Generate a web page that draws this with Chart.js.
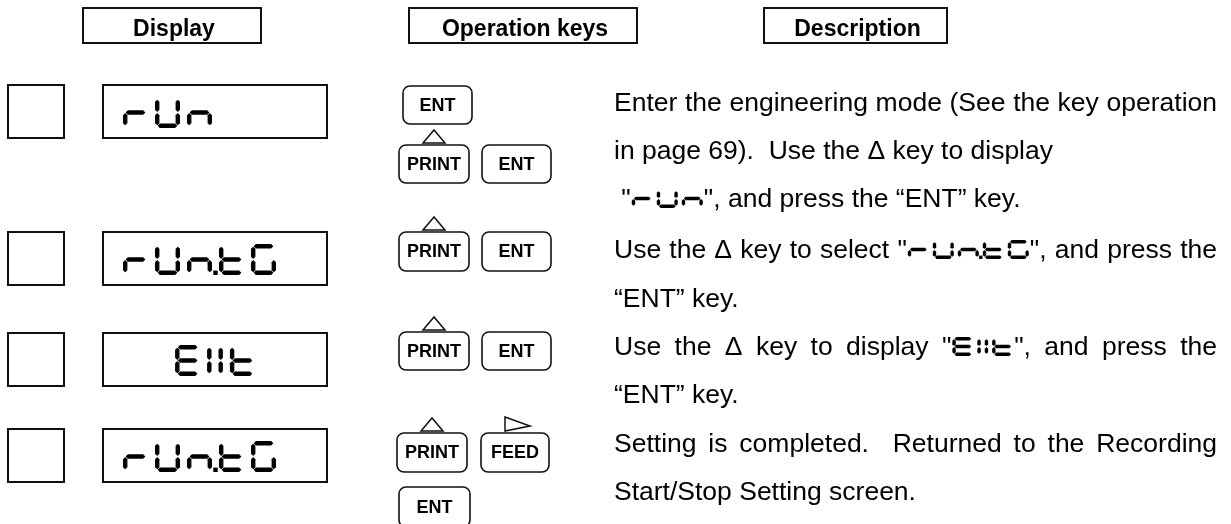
<!DOCTYPE html>
<html>
<head>
<meta charset="utf-8">
<script src="https://cdn.jsdelivr.net/npm/chart.js@4.4.0/dist/chart.umd.min.js"></script>
<style>
html, body { margin: 0; padding: 0; background: #fff; }
#wrap { width: 1231px; height: 524px; position: relative; }
</style>
</head>
<body>
<div id="wrap"><canvas id="panel"></canvas></div>
<script>
// column headings
var headers = ['Display', 'Operation keys', 'Description'];
// what the LED display shows at each step
var displays = ['rUn', 'rUn.tG', 'EXIt', 'rUn.tG'];
var displayAlign = ['left', 'left', 'center', 'left'];
// keys for each step, and the arrow printed above a key
var keyLabels = [['ENT', 'PRINT', 'ENT'], ['PRINT', 'ENT'], ['PRINT', 'ENT'], ['PRINT', 'FEED', 'ENT']];
var keyMarks = [['', 'up', ''], ['up', ''], ['up', ''], ['up', 'right', '']];
// description text, {..} = 7 segment characters
var descLines = [
  'Enter the engineering mode (See the key operation',
  'in page 69).  Use the \u0394 key to display',
  ' "{rUn}", and press the \u201cENT\u201d key.',
  'Use the \u0394 key to select "{rUn.tG}", and press the',
  '\u201cENT\u201d key.',
  'Use the \u0394 key to display "{EXIt}", and press the',
  '\u201cENT\u201d key.',
  'Setting is completed.  Returned to the Recording',
  'Start/Stop Setting screen.'
];
var descJustify = [true, false, false, true, false, true, false, true, false];

// ---- layout (pixels of the 1231x524 sheet) ----
var headerBoxes = [[83, 261], [409, 637], [764, 947]];
var headerY = [8, 43];
var rowTop = [85, 232, 333, 429];
var rowH = 53;
var keyBoxes = [
  [[403, 86, 69, 38], [399, 145, 70, 38], [482, 145, 69, 38]],
  [[399, 232, 70, 39], [482, 232, 69, 39]],
  [[399, 332, 70, 38], [482, 332, 69, 38]],
  [[397, 433, 70, 39], [481, 433, 68, 39], [399, 487, 71, 40]]
];
var descX = [614, 1217];
var descBase = [111, 159, 207, 258, 307, 355, 403, 452, 500];
var FONT = '"Liberation Sans", Arial, Helvetica, sans-serif';

var SEGS = {
  r: 'eg', U: 'bcdef', n: 'ceg', t: 'defg', G: 'acdef', E: 'adefg', X: 'bc', I: 'ef'
};
var NARROW = 'XI';

function segWidth(str, g) {
  var w = 0, n = 0;
  for (var i = 0; i < str.length; i++) {
    var ch = str[i];
    if (ch === '.') continue;
    if (n > 0) w += g.gap;
    w += NARROW.indexOf(ch) >= 0 ? g.t : g.w;
    n++;
  }
  return w;
}

// one segment: bar from (x1,y1) to (x2,y2), half thickness s, 45 degree ends
function hexSeg(ctx, x1, y1, x2, y2, s, gp) {
  var ux = x2 > x1 ? 1 : 0, uy = y2 > y1 ? 1 : 0;
  var nx = uy, ny = ux;
  ctx.beginPath();
  ctx.moveTo(x1 + ux * gp, y1 + uy * gp);
  ctx.lineTo(x1 + ux * (gp + s) + nx * s, y1 + uy * (gp + s) + ny * s);
  ctx.lineTo(x2 - ux * (gp + s) + nx * s, y2 - uy * (gp + s) + ny * s);
  ctx.lineTo(x2 - ux * gp, y2 - uy * gp);
  ctx.lineTo(x2 - ux * (gp + s) - nx * s, y2 - uy * (gp + s) - ny * s);
  ctx.lineTo(x1 + ux * (gp + s) - nx * s, y1 + uy * (gp + s) - ny * s);
  ctx.closePath();
  ctx.fill();
}

function drawSegText(ctx, str, x, bottom, g) {
  var h = g.h, t = g.t, s = t / 2, top = bottom - h, mid = top + h / 2;
  var cx = x, first = true, lastRight = x;
  ctx.fillStyle = '#000';
  for (var i = 0; i < str.length; i++) {
    var ch = str[i];
    if (ch === '.') {
      ctx.fillRect(lastRight + g.gap / 2 - s, bottom - t, t, t);
      continue;
    }
    if (!first) cx += g.gap;
    first = false;
    var w = NARROW.indexOf(ch) >= 0 ? t : g.w;
    var L = cx + s, R = cx + w - s, T = top + s, B = bottom - s;
    var on = SEGS[ch] || '';
    var gp = 0.45;
    if (on.indexOf('a') >= 0) hexSeg(ctx, L, T, R, T, s, gp);
    if (on.indexOf('g') >= 0) hexSeg(ctx, L, mid, R, mid, s, gp);
    if (on.indexOf('d') >= 0) hexSeg(ctx, L, B, R, B, s, gp);
    if (on.indexOf('f') >= 0) hexSeg(ctx, L, T, L, mid, s, gp);
    if (on.indexOf('b') >= 0) hexSeg(ctx, R, T, R, mid, s, gp);
    if (on.indexOf('e') >= 0) hexSeg(ctx, L, mid, L, B, s, gp);
    if (on.indexOf('c') >= 0) hexSeg(ctx, R, mid, R, B, s, gp);
    cx += w;
    lastRight = cx;
  }
}

// split a word into plain text and {7seg} parts
function parts(word) {
  var out = [], re = /\{([^}]*)\}/g, last = 0, m;
  while ((m = re.exec(word))) {
    if (m.index > last) out.push({ txt: word.slice(last, m.index) });
    out.push({ seg: m[1] });
    last = re.lastIndex;
  }
  if (last < word.length) out.push({ txt: word.slice(last) });
  return out;
}

var inlineSeg = { h: 19, w: 21, t: 3.4, gap: 4 };
var panelSeg = { h: 31, w: 25, t: 4.4, gap: 7 };

function wordWidth(ctx, word) {
  return parts(word).reduce(function (a, p) {
    return a + (p.seg !== undefined ? segWidth(p.seg, inlineSeg) + 2 : ctx.measureText(p.txt).width);
  }, 0);
}

function drawWord(ctx, word, x, base) {
  parts(word).forEach(function (p) {
    if (p.seg !== undefined) {
      drawSegText(ctx, p.seg, x + 1, base + 1, inlineSeg);
      x += segWidth(p.seg, inlineSeg) + 2;
    } else {
      ctx.fillText(p.txt, x, base);
      x += ctx.measureText(p.txt).width;
    }
  });
}

function roundBox(ctx, x, y, w, h, r) {
  ctx.beginPath();
  ctx.moveTo(x + r, y);
  ctx.lineTo(x + w - r, y);
  ctx.arcTo(x + w, y, x + w, y + r, r);
  ctx.lineTo(x + w, y + h - r);
  ctx.arcTo(x + w, y + h, x + w - r, y + h, r);
  ctx.lineTo(x + r, y + h);
  ctx.arcTo(x, y + h, x, y + h - r, r);
  ctx.lineTo(x, y + r);
  ctx.arcTo(x, y, x + r, y, r);
  ctx.closePath();
  ctx.stroke();
}

var sheetPlugin = {
  id: 'sheet',
  afterDraw: function (chart) {
    var ctx = chart.ctx;
    var X = function (v) { return chart.scales.x.getPixelForValue(v); };
    var Y = function (v) { return chart.scales.y.getPixelForValue(v); };
    ctx.save();
    ctx.strokeStyle = '#111';
    ctx.fillStyle = '#000';

    // headings
    ctx.lineWidth = 2;
    ctx.font = 'bold 23px ' + FONT;
    ctx.textAlign = 'center';
    ctx.textBaseline = 'alphabetic';
    headers.forEach(function (h, i) {
      var b = headerBoxes[i];
      ctx.strokeRect(X(b[0]), Y(headerY[0]), X(b[1]) - X(b[0]), Y(headerY[1]) - Y(headerY[0]));
      ctx.fillText(h, X((b[0] + b[1]) / 2) + 2, Y(headerY[0] + 28));
    });

    // check boxes + LED displays
    displays.forEach(function (d, i) {
      var top = Y(rowTop[i]), hh = Y(rowTop[i] + rowH) - top;
      ctx.lineWidth = 2;
      ctx.strokeRect(X(8), top, X(64) - X(8), hh);
      ctx.strokeRect(X(103), top, X(327) - X(103), hh);
      var sw = segWidth(d, panelSeg);
      var sx = displayAlign[i] === 'center' ? X(215) - sw / 2 : X(123);
      drawSegText(ctx, d, sx, Y(rowTop[i] + 43), panelSeg);
    });

    // keys
    ctx.font = 'bold 18px ' + FONT;
    ctx.textAlign = 'center';
    ctx.textBaseline = 'middle';
    keyLabels.forEach(function (row, i) {
      row.forEach(function (lab, j) {
        var b = keyBoxes[i][j];
        var x = X(b[0]), y = Y(b[1]), w = X(b[0] + b[2]) - x, h = Y(b[1] + b[3]) - y;
        ctx.lineWidth = 1.6;
        roundBox(ctx, x, y, w, h, 7);
        ctx.fillText(lab, x + w / 2, y + h / 2 + 1);
        var cx = x + w / 2;
        ctx.lineWidth = 1.5;
        if (keyMarks[i][j] === 'up') {
          ctx.beginPath();
          ctx.moveTo(cx - 11, y - 2);
          ctx.lineTo(cx + 11, y - 2);
          ctx.lineTo(cx, y - 15);
          ctx.closePath();
          ctx.stroke();
        } else if (keyMarks[i][j] === 'right') {
          ctx.beginPath();
          ctx.moveTo(cx - 10, y - 16);
          ctx.lineTo(cx + 15, y - 7);
          ctx.lineTo(cx - 10, y - 2);
          ctx.closePath();
          ctx.stroke();
        }
      });
    });

    // description
    ctx.font = '26.5px ' + FONT;
    ctx.textAlign = 'left';
    ctx.textBaseline = 'alphabetic';
    var spaceW = ctx.measureText(' ').width;
    descLines.forEach(function (line, i) {
      var words = line.split(' ');
      var base = Y(descBase[i]);
      var gapW = spaceW;
      if (descJustify[i] && words.length > 1) {
        var nat = words.reduce(function (a, w) { return a + wordWidth(ctx, w); }, 0) + (words.length - 1) * spaceW;
        gapW = spaceW + (X(descX[1]) - X(descX[0]) - nat) / (words.length - 1);
      }
      var x = X(descX[0]);
      words.forEach(function (w, k) {
        if (k > 0) x += gapW;
        drawWord(ctx, w, x, base);
        x += wordWidth(ctx, w);
      });
    });
    ctx.restore();
  }
};

new Chart(document.getElementById('panel'), {
  type: 'scatter',
  data: { datasets: [{ data: [] }] },
  options: {
    responsive: true,
    maintainAspectRatio: false,
    animation: false,
    layout: { padding: 0 },
    plugins: { legend: { display: false }, tooltip: { enabled: false } },
    scales: {
      x: { type: 'linear', min: 0, max: 1231, display: false },
      y: { type: 'linear', min: 0, max: 524, reverse: true, display: false }
    }
  },
  plugins: [sheetPlugin]
});
</script>
</body>
</html>
